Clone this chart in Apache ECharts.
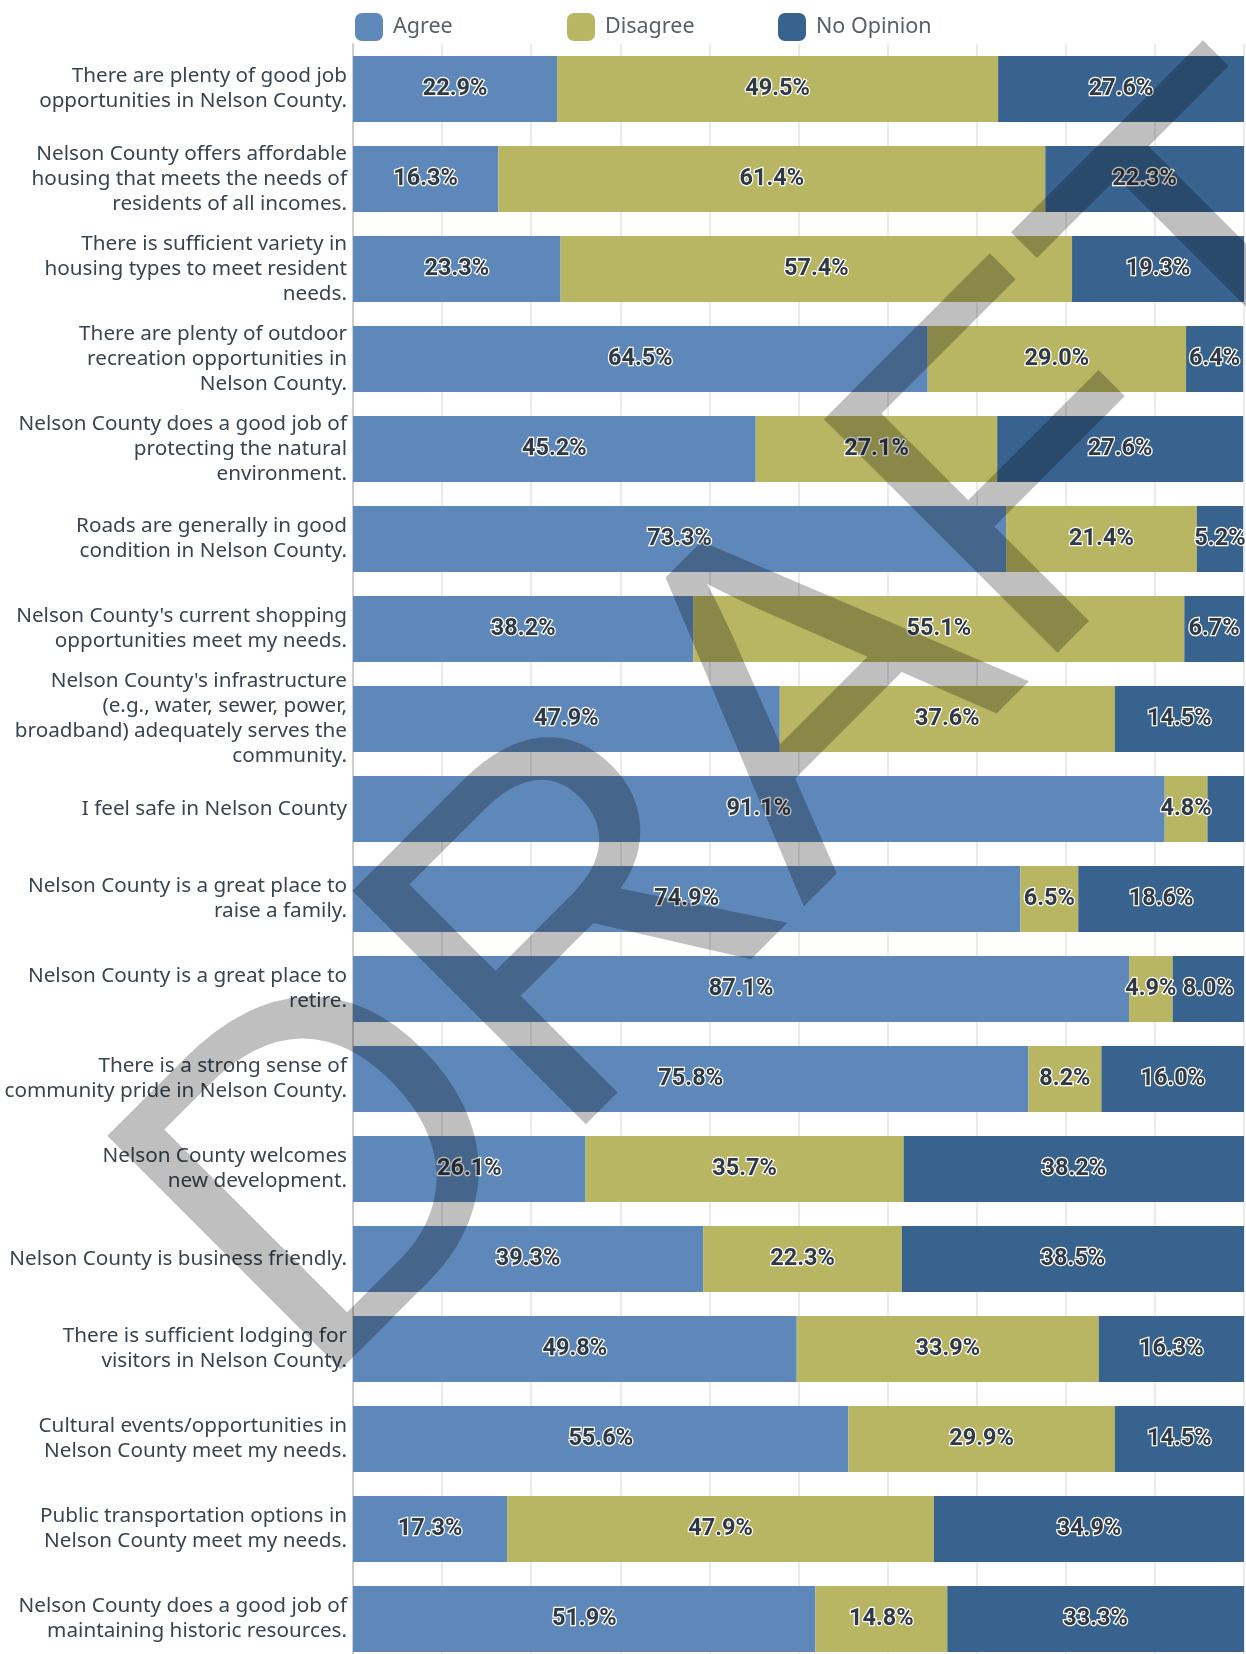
<!DOCTYPE html>
<html>
<head>
<meta charset="utf-8">
<title>Nelson County survey</title>
<script src="https://cdn.jsdelivr.net/npm/echarts@6/dist/echarts.min.js"></script>
<style>
  html, body { margin: 0; padding: 0; background: #fff; overflow: hidden; }
  #wrap { width: 1246px; height: 1654px; overflow: hidden; }
  /* the last bar runs off the bottom edge in the original, so the canvas is a bit taller */
  #chart { width: 1246px; height: 1666px; }
</style>
</head>
<body>
<div id="wrap"><div id="chart"></div></div>
<script>
// statements, top to bottom (line breaks as in the original)
const categories = [
  'There are plenty of good job\nopportunities in Nelson County.',
  'Nelson County offers affordable\nhousing that meets the needs of\nresidents of all incomes.',
  'There is sufficient variety in\nhousing types to meet resident\nneeds.',
  'There are plenty of outdoor\nrecreation opportunities in\nNelson County.',
  'Nelson County does a good job of\nprotecting the natural\nenvironment.',
  'Roads are generally in good\ncondition in Nelson County.',
  "Nelson County's current shopping\nopportunities meet my needs.",
  "Nelson County's infrastructure\n(e.g., water, sewer, power,\nbroadband) adequately serves the\ncommunity.",
  'I feel safe in Nelson County',
  'Nelson County is a great place to\nraise a family.',
  'Nelson County is a great place to\nretire.',
  'There is a strong sense of\ncommunity pride in Nelson County.',
  'Nelson County welcomes\nnew development.',
  'Nelson County is business friendly.',
  'There is sufficient lodging for\nvisitors in Nelson County.',
  'Cultural events/opportunities in\nNelson County meet my needs.',
  'Public transportation options in\nNelson County meet my needs.',
  'Nelson County does a good job of\nmaintaining historic resources.'
]

const agree     = [22.9, 16.3, 23.3, 64.5, 45.2, 73.3, 38.2, 47.9, 91.1, 74.9, 87.1, 75.8, 26.1, 39.3, 49.8, 55.6, 17.3, 51.9]
const disagree  = [49.5, 61.4, 57.4, 29.0, 27.1, 21.4, 55.1, 37.6, 4.8, 6.5, 4.9, 8.2, 35.7, 22.3, 33.9, 29.9, 47.9, 14.8]
const noOpinion = [27.6, 22.3, 19.3, 6.4, 27.6, 5.2, 6.7, 14.5, 4.1, 18.6, 8.0, 16.0, 38.2, 38.5, 16.3, 14.5, 34.9, 33.3]

const seriesNames = ['Agree', 'Disagree', 'No Opinion']
const colors = ['#5e87ba', '#b8b662', '#38638f']

const myChart = echarts.init(document.getElementById('chart'))

const barLabel = {
  show: true,
  position: 'inside',
  fontFamily: 'Roboto',
  fontWeight: 'bold',
  fontSize: 23.5,
  color: '#2f3945',
  textBorderColor: '#fff',
  textBorderWidth: 2.5,
  // very thin slices get no label
  formatter: (p) => (p.value < 4.5 ? '' : p.value.toFixed(1) + '%')
}

const makeSeries = (name, data) => ({
  name: name,
  type: 'bar',
  stack: 'total',
  barWidth: 66,
  data: data,
  label: barLabel,
  emphasis: { disabled: true }
})

// one legend per item so they sit at even steps like the original
const legendLefts = [350, 562, 773]
const makeLegend = (name, i) => ({
  left: legendLefts[i],
  top: 8,
  itemWidth: 28,
  itemHeight: 28,
  icon: 'roundRect',
  selectedMode: false,
  textStyle: {
    fontFamily: 'Noto Sans',
    fontSize: 21.5,
    color: '#56606b',
    padding: [0, 0, 0, 5]
  },
  data: [name]
})

const option = {
  animation: false,
  color: colors,
  legend: seriesNames.map(makeLegend),
  grid: {
    left: 353,
    right: 2,
    top: 44,
    bottom: 2,
    containLabel: false
  },
  xAxis: {
    type: 'value',
    min: 0,
    max: 100,
    interval: 10,
    axisLabel: { show: false },
    axisLine: { show: false },
    axisTick: { show: false },
    splitLine: { lineStyle: { color: '#ebebeb', width: 2 } }
  },
  yAxis: {
    type: 'category',
    inverse: true,
    data: categories,
    axisTick: { show: false },
    axisLine: { lineStyle: { color: '#cfcfcf', width: 2 } },
    axisLabel: {
      margin: 6,
      fontFamily: 'Noto Sans',
      fontSize: 20.7,
      lineHeight: 25,
      color: '#3a4450',
      align: 'right'
    }
  },
  series: [
    makeSeries(seriesNames[0], agree),
    makeSeries(seriesNames[1], disagree),
    makeSeries(seriesNames[2], noOpinion)
  ],
  // DRAFT watermark across the whole chart
  graphic: [{
    type: 'text',
    x: 785,
    y: 738,
    rotation: Math.PI / 4,
    z: 100,
    silent: true,
    style: {
      text: 'DRAFT',
      fontFamily: 'Liberation Sans',
      fontSize: 480,
      fill: 'rgba(0, 0, 0, 0.25)',
      align: 'center',
      verticalAlign: 'middle'
    }
  }]
}

myChart.setOption(option)
</script>
</body>
</html>
